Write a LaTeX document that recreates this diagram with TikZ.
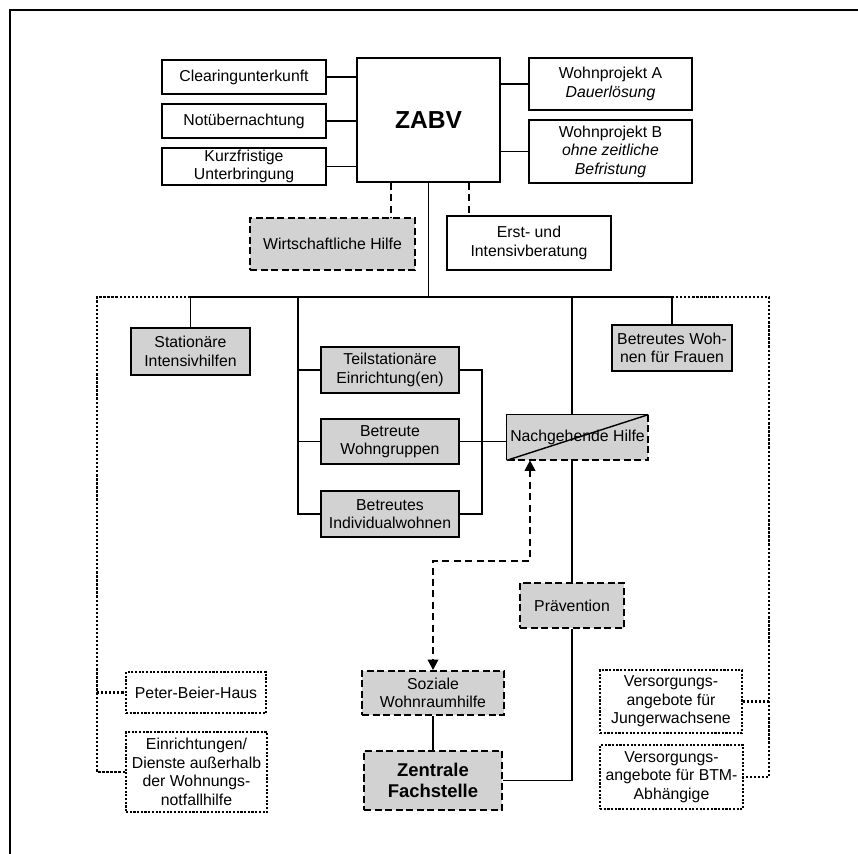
\documentclass[tikz,border=0pt]{standalone}
\usepackage{fontspec}
\setmainfont{Liberation Sans}
\usepackage{tikz}
\usetikzlibrary{arrows.meta,positioning,calc}
\definecolor{rastergray}{HTML}{D2D2D2}

\begin{document}
\begin{tikzpicture}[
  x=0.02cm, y=-0.02cm,
  every node/.style={font=\fontsize{9}{10.5}\selectfont},
  box/.style={rectangle, draw, line width=0.8pt, inner sep=0pt, align=center},
  graybox/.style={box, fill=rastergray},
  dashbox/.style={graybox, line width=1.1pt, dash pattern=on 4pt off 2pt},
  dotbox/.style={box, line width=1.2pt, dash pattern=on 1.2pt off 0.9pt},
  link/.style={line width=0.7pt},
  dashlink/.style={line width=1.2pt, dash pattern=on 4pt off 2.5pt},
  dotlink/.style={line width=1.4pt, dash pattern=on 1.3pt off 1pt},
  >={Triangle[length=6pt,width=6pt]},
]
  \useasboundingbox (0,0) rectangle (858,854);
  %% frame (top and left edge only)
  \draw[line width=0.8pt] (10,854) -- (10,10) -- (858,10);

  %% Row 1: ZABV and its satellites
  \node[box, minimum width=2.86cm, minimum height=2.48cm, font=\fontsize{14}{16}\selectfont\bfseries] (zabv) at (428.5,120) {ZABV};
  \node[box, minimum width=3.28cm, minimum height=0.68cm] (clear) at (244,77) {Clearingunterkunft};
  \node[box, minimum width=3.28cm, minimum height=0.68cm] (notue) at (244,121) {Notübernachtung};
  \node[box, minimum width=3.28cm, minimum height=0.74cm] (kurz) at (244,166.5) {Kurzfristige\\Unterbringung};
  \node[box, minimum width=3.26cm, minimum height=1.04cm] (wpa) at (610.5,84) {Wohnprojekt A\\\textit{Dauerlösung}};
  \node[box, minimum width=3.26cm, minimum height=1.26cm] (wpb) at (610.5,151.5) {Wohnprojekt B\\\textit{ohne zeitliche}\\\textit{Befristung}};

  %% Row 2: below ZABV
  \node[dashbox, minimum width=3.3cm, minimum height=1.04cm] (wirt) at (332.5,244) {Wirtschaftliche Hilfe};
  \node[box, minimum width=3.28cm, minimum height=1.08cm] (erst) at (529,243) {Erst- und\\Intensivberatung};

  %% Row 3: stationary and assisted housing
  \node[graybox, minimum width=2.38cm, minimum height=0.94cm] (stat) at (190.5,351.5) {Stationäre\\Intensivhilfen};
  \node[graybox, minimum width=2.76cm, minimum height=0.92cm] (teil) at (390,370) {Teilstationäre\\Einrichtung(en)};
  \node[graybox, minimum width=2.76cm, minimum height=0.9cm] (wgr) at (390,441.5) {Betreute\\Wohngruppen};
  \node[graybox, minimum width=2.76cm, minimum height=0.92cm] (indiv) at (390,514) {Betreutes\\Individualwohnen};
  \node[graybox, minimum width=2.4cm, minimum height=0.92cm] (frauen) at (672,348) {Betreutes Woh-\\nen für Frauen};
  \node[fill=rastergray, inner sep=0pt, minimum width=2.82cm, minimum height=0.9cm] (nachg) at (577.5,437.5) {Nachgehende Hilfe};
  \draw[line width=0.8pt] (nachg.south west) |- (nachg.north east);
  \draw[line width=1.1pt, dash pattern=on 4pt off 2pt] (nachg.north east) |- (nachg.south west);
  \draw[line width=0.8pt] (nachg.south west) -- (nachg.north east);

  %% Row 4: prevention, Fachstelle
  \node[dashbox, minimum width=2.08cm, minimum height=0.9cm] (praev) at (572,605.5) {Prävention};
  \node[dashbox, minimum width=2.84cm, minimum height=0.88cm] (sozial) at (433,693) {Soziale\\Wohnraumhilfe};
  \node[dashbox, minimum width=2.76cm, minimum height=1.18cm, font=\fontsize{10.5}{11.5}\selectfont\bfseries] (zentral) at (433,780.5) {Zentrale\\Fachstelle};

  %% outside the Wohnungsnotfallhilfe
  \node[dotbox, minimum width=2.8cm, minimum height=0.82cm] (peter) at (196,692.5) {Peter-Beier-Haus};
  \node[dotbox, minimum width=2.82cm, minimum height=1.6cm] (einr) at (196.5,772) {Einrichtungen/\\Dienste außerhalb\\der Wohnungs-\\notfallhilfe};
  \node[dotbox, minimum width=2.84cm, minimum height=1.26cm] (vjung) at (671,701.5) {Versorgungs-\\angebote für\\Jungerwachsene};
  \node[dotbox, minimum width=2.86cm, minimum height=1.28cm] (vbtm) at (671.5,777) {Versorgungs-\\angebote für BTM-\\Abhängige};

  %% helper points
  \coordinate (busy) at (0,297);
  \coordinate (dl) at (97,297);
  \coordinate (dr) at (769,297);
  \coordinate (gl) at (298,297);
  \coordinate (gr) at (482,0);
  \coordinate (knick) at (530,561);
  \coordinate (zw) at ([xshift=0.7cm]zabv.south west);
  \coordinate (ze) at ([xshift=-0.64cm]zabv.south east);

  %% ZABV links
  \draw[link] (clear.east) -- (clear.east -| zabv.west);
  \draw[link] (notue.east) -- (notue.east -| zabv.west);
  \draw[link] (kurz.east) -- (kurz.east -| zabv.west);
  \draw[link] (wpa.west) -- (wpa.west -| zabv.east);
  \draw[link] (wpb.west) -- (wpb.west -| zabv.east);
  \draw[dashlink] (zw) -- (zw |- wirt.north);
  \draw[dashlink] (ze) -- (ze |- erst.north);

  %% main bus
  \draw[link] (zabv.south) -- (zabv.south |- busy);
  \draw[link] (stat.north |- busy) -- (frauen.north |- busy);
  \draw[link] (stat.north |- busy) -- (stat.north);
  \draw[link] (frauen.north |- busy) -- (frauen.north);
  \draw[link] (gl) |- (indiv.west);
  \draw[link] (teil.west -| gl) -- (teil.west);
  \draw[link] (wgr.west -| gl) -- (wgr.west);
  \draw[link] (teil.east) -| (gr |- indiv.east) -- (indiv.east);
  \draw[link] (wgr.east) -- (wgr.east -| nachg.west);
  \draw[link] (praev.north |- busy) -- (praev.north |- nachg.north);
  \draw[link] (praev.north |- nachg.south) -- (praev.north);
  \draw[link] (praev.south) |- (zentral.east);
  \draw[link] (sozial.south) -- (zentral.north);

  %% dashed double arrow
  \draw[dashlink, <->] (knick |- nachg.south) -- (knick) -| (sozial.north);

  %% dotted side branches
  \draw[dotlink] (stat.north |- busy) -- (dl) |- (einr.west);
  \draw[dotlink] (peter.west -| dl) -- (peter.west);
  \draw[dotlink] (frauen.north |- busy) -- (dr) |- (vbtm.east);
  \draw[dotlink] (vjung.east -| dr) -- (vjung.east);
\end{tikzpicture}
\end{document}
